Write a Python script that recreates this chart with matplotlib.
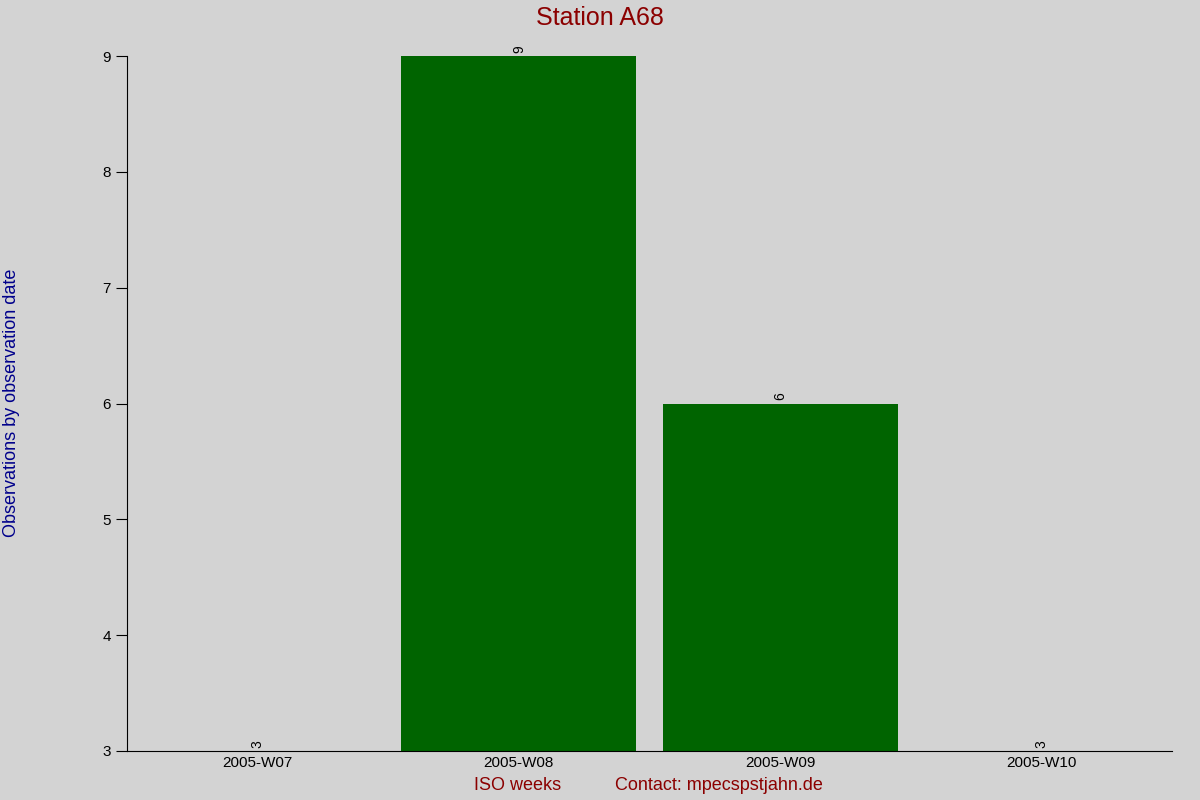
import numpy as np
import matplotlib.pyplot as plt

weeks = ['2005-W07', '2005-W08', '2005-W09', '2005-W10']
counts = [3, 9, 6, 3]
ymin, ymax = 3, 9

fig = plt.figure(figsize=(12, 8), dpi=100, facecolor='#d3d3d3')
ax = fig.add_axes([127/1200, 1-751/800, (1172-127)/1200, (751-56)/800])
ax.set_facecolor('#d3d3d3')

x = np.arange(len(weeks))
heights = [c - ymin for c in counts]
ax.bar(x, heights, bottom=ymin, width=0.9, color='#006400')
for xi, c in zip(x, counts):
    ax.text(xi, c + 0.03, str(c), rotation=90, ha='center', va='bottom',
            fontsize=10, fontfamily='Liberation Sans')

ax.set_xlim(-0.5, len(weeks) - 0.5)
ax.set_ylim(ymin, ymax)
ax.set_xticks(x)
ax.set_xticklabels(weeks, fontsize=11, fontfamily='Liberation Sans')
ax.set_yticks(range(ymin, ymax + 1))
ax.tick_params(axis='y', labelsize=11, direction='out', length=8)
ax.tick_params(axis='x', length=0)
for lab in ax.get_yticklabels():
    lab.set_fontfamily('Liberation Sans')
ax.spines['top'].set_visible(False)
ax.spines['right'].set_visible(False)

fig.text(0.5, 1-18/800, 'Station A68', ha='center', va='center', fontsize=18,
         color='#8b0000', fontfamily='Liberation Sans')
fig.text(518/1200, 1-786/800, 'ISO weeks', ha='center', va='center', fontsize=13,
         color='#8b0000', fontfamily='Liberation Sans')
fig.text(719/1200, 1-786/800, 'Contact: mpecspstjahn.de', ha='center', va='center',
         fontsize=13, color='#8b0000', fontfamily='Liberation Sans')
fig.text(12/1200, 1-403/800, 'Observations by observation date', rotation=90,
         ha='center', va='center', fontsize=13, color='#00008b',
         fontfamily='Liberation Sans')

fig.savefig('out.png', dpi=100, facecolor=fig.get_facecolor())
